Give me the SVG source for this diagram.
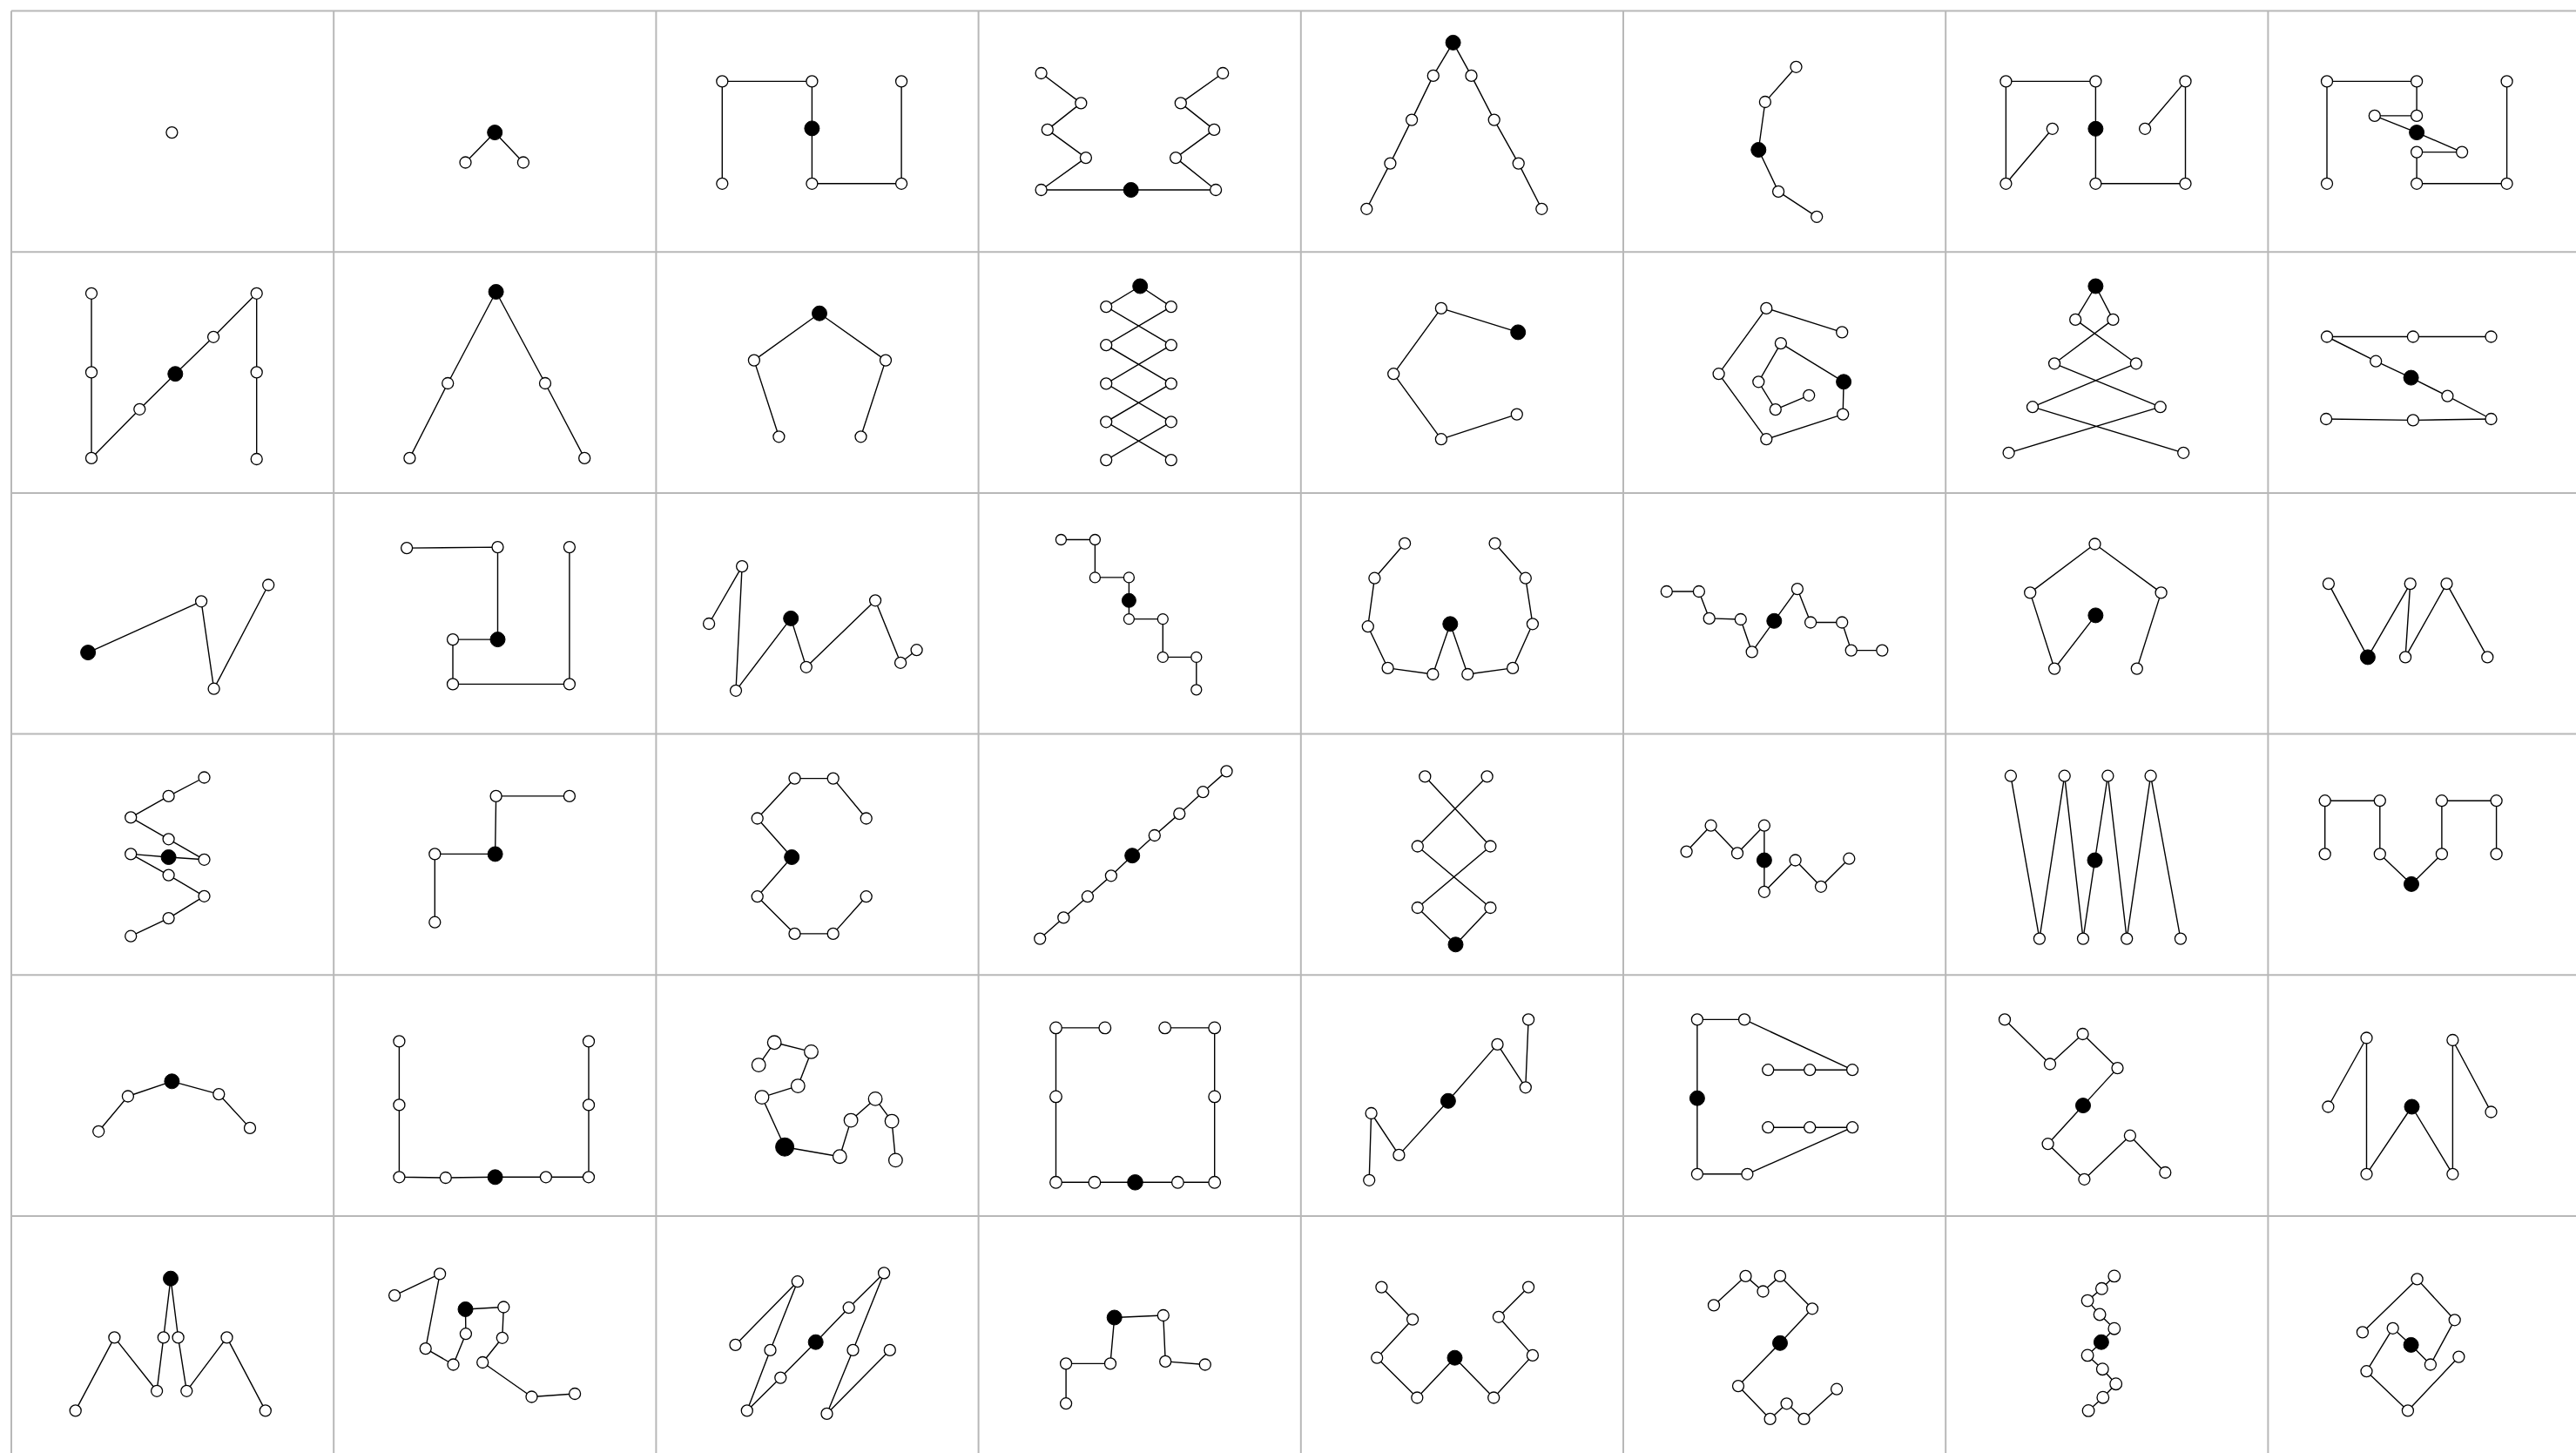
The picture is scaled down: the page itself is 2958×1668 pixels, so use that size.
<svg xmlns="http://www.w3.org/2000/svg" width="2958" height="1668" viewBox="0 0 2958 1668">
<style>
.grid{stroke:#b8b8b8;stroke-width:2;fill:none}
.e{fill:none;stroke:#000;stroke-width:1.4;stroke-linejoin:round}
.o{fill:#fff;stroke:#000;stroke-width:1.3}
.b{fill:#000;stroke:#000;stroke-width:1}
</style>
<rect x="0" y="0" width="2958" height="1668" fill="#fff"/>
<g id="grid" class="grid">
<path d="M13,12.5V1668M383.2,12.5V1668M753.4,12.5V1668M1123.6,12.5V1668M1493.8,12.5V1668M1864,12.5V1668M2234.2,12.5V1668M2604.4,12.5V1668"/>
<path d="M13,12.5H2958M13,289.2H2958M13,565.9H2958M13,842.6H2958M13,1119.3H2958M13,1396H2958"/>
</g>
<g id="connectors" class="e">
<path id="e-r0c1" d="M534.5,186.5L568.2,152.1L600.9,186.5"/>
<path id="e-r0c2" d="M829.3,210.8L829.3,93.4L932.4,93.4L932.4,147.4L932.4,210.8L1035.1,210.8L1035.1,93.4"/>
<path id="e-r0c3" d="M1195.6,84L1241.3,118.4L1202.8,148.9L1246.9,181.1L1195.6,218L1298.7,218L1396.1,218L1350.1,181.1L1394.2,148.9L1355.8,118.4L1404.2,84"/>
<path id="e-r0c4" d="M1569.3,239.8L1596.4,187.6L1621.1,137.6L1645.8,86.9L1668.6,48.9L1689.5,86.9L1715.7,137.6L1743.7,187.6L1770.3,239.8"/>
<path id="e-r0c5" d="M2062.5,76.8L2026.9,117L2019.3,172L2042.1,219.9L2086.2,248.8"/>
<path id="e-r0c6" d="M2356.8,147.8L2303.4,210.8L2303.4,93.4L2406.4,93.4L2406.4,147.8L2406.4,210.8L2509.5,210.8L2509.5,93.4L2463.1,147.8"/>
<path id="e-r0c7" d="M2672,210.8L2672,93.4L2775.1,93.4L2775.1,132.9L2726.8,132.9L2775.1,152.1L2827.1,174.6L2775.1,174.6L2775.1,210.8L2878.6,210.8L2878.6,93.4"/>
<path id="e-r1c0" d="M105,336.8L105,427.4L105,525.9L160.3,469.8L201.3,429.2L245.1,386.8L294.7,336.8L294.7,427.4L294.7,527"/>
<path id="e-r1c1" d="M470.4,525.9L514.2,440L569.6,335L626,440L671.2,525.9"/>
<path id="e-r1c2" d="M894.4,501.3L865.9,413.6L941,359.7L1017,413.6L988.5,501.3"/>
<path id="e-r1c3" d="M1309.2,328.5L1270.2,352.1L1344.8,396.2L1270.2,440.4L1344.8,484.3L1270.2,528.1M1309.2,328.5L1344.8,352.1L1270.2,396.2L1344.8,440.4L1270.2,484.3L1344.8,528.1"/>
<path id="e-r1c4" d="M1743.2,381.4L1654.9,353.9L1600.2,429.2L1654.9,504.2L1741.8,475.6"/>
<path id="e-r1c5" d="M2115.2,381.4L2028.3,353.9L1973.6,429.2L2028.3,504.2L2116.2,475.6L2117.1,438.3L2044.9,394.1L2019.3,438.3L2038.8,470.1L2077.2,453.8"/>
<path id="e-r1c6" d="M2406.4,328.5L2383.2,366.9L2452.9,417.3L2334,467.2L2507.2,519.8M2406.4,328.5L2426.4,366.9L2359.1,417.3L2480.7,467.2L2306.6,519.8"/>
<path id="e-r1c7" d="M2860.5,386.5L2770.9,386.5L2672,386.5L2728.2,414.7L2768.6,433.6L2810.4,454.6L2860.5,481L2770.9,482.4L2671.1,481"/>
<path id="e-r2c0" d="M101.1,749.1L231.1,690.3L245.6,790.7L308.2,671.5"/>
<path id="e-r2c1" d="M467.1,629.1L571.5,628.1L571.5,734.1L520,734.1L520,785.4L653.9,785.4L653.9,628.1"/>
<path id="e-r2c2" d="M814.1,716L852.1,650.1L845,792.8L908.2,709.9L925.8,765.8L1005.1,689.3L1034.1,760.8L1052.6,746.2"/>
<path id="e-r2c3" d="M1218.4,619.5L1257.4,619.5L1257.4,662.9L1296.4,662.9L1296.4,689.3L1296.4,710.6L1335.3,710.6L1335.3,754.4L1373.8,754.4L1373.8,791.8"/>
<path id="e-r2c4" d="M1613.1,623.8L1578.4,663.7L1570.8,719.2L1593.6,766.9L1645.4,774L1665.3,716.3L1685.3,774L1737.1,766.9L1759.9,716.3L1751.8,663.7L1716.6,623.8"/>
<path id="e-r2c5" d="M1913.8,679L1950.9,679L1962.7,709.9L1998.8,711L2011.7,748.4L2037.3,712.8L2063.9,676.1L2079.1,714.5L2115.2,714.5L2125.7,746.6L2161.3,746.6"/>
<path id="e-r2c6" d="M2406.4,706.4L2359.1,767.6L2331.2,680.4L2405.5,624.5L2481.6,680.4L2453.8,767.6"/>
<path id="e-r2c7" d="M2673.9,670.1L2718.9,754.4L2767.7,670.1L2762.1,754.4L2809.5,670.1L2856.3,754.4"/>
<path id="e-r3c0" d="M234.5,892.5L193.6,913.9L150.2,938.4L193.6,963.3L234.5,986.8L193.6,984L150.2,980.4L193.6,1004.6L234.5,1028.8L193.6,1054.1L150.2,1074.7"/>
<path id="e-r3c1" d="M653.9,913.9L569.6,913.9L568.6,980.4L499.3,980.4L499.3,1058.7"/>
<path id="e-r3c2" d="M994.7,939.5L956.7,893.6L912.5,893.6L869.7,939.5L909.2,984L869.7,1029.2L912.5,1071.9L956.7,1071.9L994.7,1029.2"/>
<path id="e-r3c3" d="M1194.2,1077.6L1221.3,1053.4L1248.9,1029.2L1275.9,1005.3L1300.2,982.2L1325.8,959L1354.3,934.1L1381.4,909.2L1408.5,885.4"/>
<path id="e-r3c4" d="M1636.3,891.4L1711.4,971.5L1627.8,1042L1671.5,1084.3L1711.4,1042L1627.8,971.5L1707.6,891.4"/>
<path id="e-r3c5" d="M1936.6,977.6L1964.6,947.7L1995,979.4L2025.9,947.7L2025.9,987.5L2025.9,1023.8L2061.6,987.5L2091,1017.8L2123.3,985.7"/>
<path id="e-r3c6" d="M2308.9,890.7L2341.9,1077.6L2370.7,890.7L2392,1077.6L2405.5,987.5L2420.4,890.7L2442.2,1077.6L2469.6,890.7L2503.9,1077.6"/>
<path id="e-r3c7" d="M2669.7,980.4L2669.7,919.2L2732.8,919.2L2732.8,980.4L2769,1014.9L2803.9,980.4L2803.9,919.2L2866.6,919.2L2866.6,980.4"/>
<path id="e-r4c0" d="M113.2,1298.8L146.9,1258.5L197.4,1241.3L251.3,1256.1L287,1294.9"/>
<path id="e-r4c1" d="M458.4,1195.4L458.4,1268.4L458.4,1351.3L511.8,1352L568.6,1351.3L626.9,1351.3L676,1351.3L676,1268.4L676,1195.4"/>
<path id="e-r4c2" d="M871.2,1222.6L889.2,1196.8L931.5,1207.4L916.3,1246.6L875,1259.6L901.1,1316.7L964.3,1327.7L977.1,1286.1L1005.1,1261.4L1024.1,1287.1L1028.4,1331.9"/>
<path id="e-r4c3" d="M1268.8,1179.9L1212.5,1179.9L1212.5,1258.9L1212.5,1357.3L1256.9,1357.3L1303.5,1357.3L1352.4,1357.3L1394.7,1357.3L1394.7,1258.9L1394.7,1179.9L1337.7,1179.9"/>
<path id="e-r4c4" d="M1572.2,1354.8L1574.6,1278L1606.4,1325.9L1662.9,1263.8L1719.5,1198.9L1751.8,1248.3L1755.1,1170.4"/>
<path id="e-r4c5" d="M2030.2,1228.2L2078.2,1228.2L2127.1,1228.2L2003.1,1170.4L1948.9,1170.4L1948.9,1260.7L1948.9,1347.8L2006.4,1347.8L2127.1,1294.2L2078.2,1294.2L2030.2,1294.2"/>
<path id="e-r4c6" d="M2302,1170.4L2354,1221.5L2391.6,1187L2431.5,1226.1L2392,1269.1L2351.6,1313.2L2393.4,1353.8L2445.9,1303.7L2486.3,1346"/>
<path id="e-r4c7" d="M2673.4,1270.5L2717.5,1191.5L2717.5,1347.8L2769.5,1270.5L2816.4,1347.8L2816.4,1194L2860.5,1276.5"/>
<path id="e-r5c0" d="M86.7,1619.4L131.4,1535.4L180.1,1596.8L187.8,1535.4L196,1467.7L204.6,1535.4L214.3,1596.8L260.5,1535.4L304.8,1619.4"/>
<path id="e-r5c1" d="M453.1,1487.1L505.1,1462.4L488.7,1548.1L520.5,1566.5L534.9,1531.2L534.5,1503L578.3,1500.5L576.8,1535.8L554.2,1564L610.5,1603.5L660.1,1600"/>
<path id="e-r5c2" d="M844.5,1543.9L915.8,1471.2L884.5,1549.9L857.8,1619.4L896.3,1581.6L936.7,1540.7L974.7,1501.2L1015.1,1461.4L979.5,1549.9L949.5,1622.9L1021.8,1549.9"/>
<path id="e-r5c3" d="M1224.1,1611.2L1224.1,1565.4L1275,1565.4L1279.7,1512.5L1335.8,1510L1338.2,1562.9L1383.8,1566.5"/>
<path id="e-r5c4" d="M1586.4,1477.6L1622.1,1514.6L1581.2,1558.7L1627.3,1604.5L1670.5,1558.7L1715.2,1604.5L1759.9,1555.9L1720.9,1511.8L1755.1,1477.6"/>
<path id="e-r5c5" d="M1968,1498.4L2004.5,1464.9L2024.5,1482.5L2044,1464.9L2081,1502.3L2044,1541.8L1996,1591.1L2032.6,1628.9L2051.6,1611.3L2071.5,1628.9L2109.1,1594.7"/>
<path id="e-r5c6" d="M2427.8,1464.9L2413.4,1479.3L2397.1,1493.1L2411.1,1509L2427.8,1525.2L2412.9,1540.7L2397.1,1555.9L2414.3,1571.7L2429.7,1588.7L2414.8,1604.2L2398.1,1619.4"/>
<path id="e-r5c7" d="M2712.9,1529.4L2775.6,1468.4L2818.7,1515.3L2790.9,1566.5L2768.6,1543.9L2747.7,1524.8L2717.5,1574.2L2764.9,1619.4L2823.4,1557.6"/>
</g>
<g id="nodes">
<g id="graph-r0c0"><circle class="o" cx="197.4" cy="152.1" r="6.5"/></g>
<g id="graph-r0c1"><circle class="o" cx="534.5" cy="186.5" r="6.5"/><circle class="o" cx="600.9" cy="186.5" r="6.5"/><circle class="b" cx="568.2" cy="152.1" r="8.5"/></g>
<g id="graph-r0c2"><circle class="o" cx="829.3" cy="210.8" r="6.5"/><circle class="o" cx="829.3" cy="93.4" r="6.5"/><circle class="o" cx="932.4" cy="93.4" r="6.5"/><circle class="o" cx="932.4" cy="210.8" r="6.5"/><circle class="o" cx="1035.1" cy="210.8" r="6.5"/><circle class="o" cx="1035.1" cy="93.4" r="6.5"/><circle class="b" cx="932.4" cy="147.4" r="8.5"/></g>
<g id="graph-r0c3"><circle class="o" cx="1195.6" cy="84" r="6.5"/><circle class="o" cx="1241.3" cy="118.4" r="6.5"/><circle class="o" cx="1202.8" cy="148.9" r="6.5"/><circle class="o" cx="1246.9" cy="181.1" r="6.5"/><circle class="o" cx="1195.6" cy="218" r="6.5"/><circle class="o" cx="1396.1" cy="218" r="6.5"/><circle class="o" cx="1350.1" cy="181.1" r="6.5"/><circle class="o" cx="1394.2" cy="148.9" r="6.5"/><circle class="o" cx="1355.8" cy="118.4" r="6.5"/><circle class="o" cx="1404.2" cy="84" r="6.5"/><circle class="b" cx="1298.7" cy="218" r="8.5"/></g>
<g id="graph-r0c4"><circle class="o" cx="1569.3" cy="239.8" r="6.5"/><circle class="o" cx="1596.4" cy="187.6" r="6.5"/><circle class="o" cx="1621.1" cy="137.6" r="6.5"/><circle class="o" cx="1645.8" cy="86.9" r="6.5"/><circle class="o" cx="1689.5" cy="86.9" r="6.5"/><circle class="o" cx="1715.7" cy="137.6" r="6.5"/><circle class="o" cx="1743.7" cy="187.6" r="6.5"/><circle class="o" cx="1770.3" cy="239.8" r="6.5"/><circle class="b" cx="1668.6" cy="48.9" r="8.5"/></g>
<g id="graph-r0c5"><circle class="o" cx="2062.5" cy="76.8" r="6.5"/><circle class="o" cx="2026.9" cy="117" r="6.5"/><circle class="o" cx="2042.1" cy="219.9" r="6.5"/><circle class="o" cx="2086.2" cy="248.8" r="6.5"/><circle class="b" cx="2019.3" cy="172" r="8.5"/></g>
<g id="graph-r0c6"><circle class="o" cx="2356.8" cy="147.8" r="6.5"/><circle class="o" cx="2303.4" cy="210.8" r="6.5"/><circle class="o" cx="2303.4" cy="93.4" r="6.5"/><circle class="o" cx="2406.4" cy="93.4" r="6.5"/><circle class="o" cx="2406.4" cy="210.8" r="6.5"/><circle class="o" cx="2509.5" cy="210.8" r="6.5"/><circle class="o" cx="2509.5" cy="93.4" r="6.5"/><circle class="o" cx="2463.1" cy="147.8" r="6.5"/><circle class="b" cx="2406.4" cy="147.8" r="8.5"/></g>
<g id="graph-r0c7"><circle class="o" cx="2672" cy="210.8" r="6.5"/><circle class="o" cx="2672" cy="93.4" r="6.5"/><circle class="o" cx="2775.1" cy="93.4" r="6.5"/><circle class="o" cx="2775.1" cy="132.9" r="6.5"/><circle class="o" cx="2726.8" cy="132.9" r="6.5"/><circle class="o" cx="2827.1" cy="174.6" r="6.5"/><circle class="o" cx="2775.1" cy="174.6" r="6.5"/><circle class="o" cx="2775.1" cy="210.8" r="6.5"/><circle class="o" cx="2878.6" cy="210.8" r="6.5"/><circle class="o" cx="2878.6" cy="93.4" r="6.5"/><circle class="b" cx="2775.1" cy="152.1" r="8.5"/></g>
<g id="graph-r1c0"><circle class="o" cx="105" cy="336.8" r="6.5"/><circle class="o" cx="105" cy="427.4" r="6.5"/><circle class="o" cx="105" cy="525.9" r="6.5"/><circle class="o" cx="160.3" cy="469.8" r="6.5"/><circle class="o" cx="245.1" cy="386.8" r="6.5"/><circle class="o" cx="294.7" cy="336.8" r="6.5"/><circle class="o" cx="294.7" cy="427.4" r="6.5"/><circle class="o" cx="294.7" cy="527" r="6.5"/><circle class="b" cx="201.3" cy="429.2" r="8.5"/></g>
<g id="graph-r1c1"><circle class="o" cx="470.4" cy="525.9" r="6.5"/><circle class="o" cx="514.2" cy="440" r="6.5"/><circle class="o" cx="626" cy="440" r="6.5"/><circle class="o" cx="671.2" cy="525.9" r="6.5"/><circle class="b" cx="569.6" cy="335" r="8.5"/></g>
<g id="graph-r1c2"><circle class="o" cx="894.4" cy="501.3" r="6.5"/><circle class="o" cx="865.9" cy="413.6" r="6.5"/><circle class="o" cx="1017" cy="413.6" r="6.5"/><circle class="o" cx="988.5" cy="501.3" r="6.5"/><circle class="b" cx="941" cy="359.7" r="8.5"/></g>
<g id="graph-r1c3"><circle class="o" cx="1270.2" cy="352.1" r="6.5"/><circle class="o" cx="1344.8" cy="352.1" r="6.5"/><circle class="o" cx="1270.2" cy="396.2" r="6.5"/><circle class="o" cx="1344.8" cy="396.2" r="6.5"/><circle class="o" cx="1270.2" cy="440.4" r="6.5"/><circle class="o" cx="1344.8" cy="440.4" r="6.5"/><circle class="o" cx="1270.2" cy="484.3" r="6.5"/><circle class="o" cx="1344.8" cy="484.3" r="6.5"/><circle class="o" cx="1270.2" cy="528.1" r="6.5"/><circle class="o" cx="1344.8" cy="528.1" r="6.5"/><circle class="b" cx="1309.2" cy="328.5" r="8.5"/></g>
<g id="graph-r1c4"><circle class="o" cx="1654.9" cy="353.9" r="6.5"/><circle class="o" cx="1600.2" cy="429.2" r="6.5"/><circle class="o" cx="1654.9" cy="504.2" r="6.5"/><circle class="o" cx="1741.8" cy="475.6" r="6.5"/><circle class="b" cx="1743.2" cy="381.4" r="8.5"/></g>
<g id="graph-r1c5"><circle class="o" cx="2115.2" cy="381.4" r="6.5"/><circle class="o" cx="2028.3" cy="353.9" r="6.5"/><circle class="o" cx="1973.6" cy="429.2" r="6.5"/><circle class="o" cx="2028.3" cy="504.2" r="6.5"/><circle class="o" cx="2116.2" cy="475.6" r="6.5"/><circle class="o" cx="2044.9" cy="394.1" r="6.5"/><circle class="o" cx="2019.3" cy="438.3" r="6.5"/><circle class="o" cx="2038.8" cy="470.1" r="6.5"/><circle class="o" cx="2077.2" cy="453.8" r="6.5"/><circle class="b" cx="2117.1" cy="438.3" r="8.5"/></g>
<g id="graph-r1c6"><circle class="o" cx="2383.2" cy="366.9" r="6.5"/><circle class="o" cx="2426.4" cy="366.9" r="6.5"/><circle class="o" cx="2359.1" cy="417.3" r="6.5"/><circle class="o" cx="2452.9" cy="417.3" r="6.5"/><circle class="o" cx="2334" cy="467.2" r="6.5"/><circle class="o" cx="2480.7" cy="467.2" r="6.5"/><circle class="o" cx="2306.6" cy="519.8" r="6.5"/><circle class="o" cx="2507.2" cy="519.8" r="6.5"/><circle class="b" cx="2406.4" cy="328.5" r="8.5"/></g>
<g id="graph-r1c7"><circle class="o" cx="2860.5" cy="386.5" r="6.5"/><circle class="o" cx="2770.9" cy="386.5" r="6.5"/><circle class="o" cx="2672" cy="386.5" r="6.5"/><circle class="o" cx="2728.2" cy="414.7" r="6.5"/><circle class="o" cx="2810.4" cy="454.6" r="6.5"/><circle class="o" cx="2860.5" cy="481" r="6.5"/><circle class="o" cx="2770.9" cy="482.4" r="6.5"/><circle class="o" cx="2671.1" cy="481" r="6.5"/><circle class="b" cx="2768.6" cy="433.6" r="8.5"/></g>
<g id="graph-r2c0"><circle class="o" cx="231.1" cy="690.3" r="6.5"/><circle class="o" cx="245.6" cy="790.7" r="6.5"/><circle class="o" cx="308.2" cy="671.5" r="6.5"/><circle class="b" cx="101.1" cy="749.1" r="8.5"/></g>
<g id="graph-r2c1"><circle class="o" cx="467.1" cy="629.1" r="6.5"/><circle class="o" cx="571.5" cy="628.1" r="6.5"/><circle class="o" cx="520" cy="734.1" r="6.5"/><circle class="o" cx="520" cy="785.4" r="6.5"/><circle class="o" cx="653.9" cy="785.4" r="6.5"/><circle class="o" cx="653.9" cy="628.1" r="6.5"/><circle class="b" cx="571.5" cy="734.1" r="8.5"/></g>
<g id="graph-r2c2"><circle class="o" cx="814.1" cy="716" r="6.5"/><circle class="o" cx="852.1" cy="650.1" r="6.5"/><circle class="o" cx="845" cy="792.8" r="6.5"/><circle class="o" cx="925.8" cy="765.8" r="6.5"/><circle class="o" cx="1005.1" cy="689.3" r="6.5"/><circle class="o" cx="1034.1" cy="760.8" r="6.5"/><circle class="o" cx="1052.6" cy="746.2" r="6.5"/><circle class="b" cx="908.2" cy="709.9" r="8.5"/></g>
<g id="graph-r2c3"><circle class="o" cx="1218.4" cy="619.5" r="6"/><circle class="o" cx="1257.4" cy="619.5" r="6"/><circle class="o" cx="1257.4" cy="662.9" r="6"/><circle class="o" cx="1296.4" cy="662.9" r="6"/><circle class="o" cx="1296.4" cy="710.6" r="6"/><circle class="o" cx="1335.3" cy="710.6" r="6"/><circle class="o" cx="1335.3" cy="754.4" r="6"/><circle class="o" cx="1373.8" cy="754.4" r="6"/><circle class="o" cx="1373.8" cy="791.8" r="6"/><circle class="b" cx="1296.4" cy="689.3" r="8"/></g>
<g id="graph-r2c4"><circle class="o" cx="1613.1" cy="623.8" r="6.5"/><circle class="o" cx="1578.4" cy="663.7" r="6.5"/><circle class="o" cx="1570.8" cy="719.2" r="6.5"/><circle class="o" cx="1593.6" cy="766.9" r="6.5"/><circle class="o" cx="1645.4" cy="774" r="6.5"/><circle class="o" cx="1685.3" cy="774" r="6.5"/><circle class="o" cx="1737.1" cy="766.9" r="6.5"/><circle class="o" cx="1759.9" cy="716.3" r="6.5"/><circle class="o" cx="1751.8" cy="663.7" r="6.5"/><circle class="o" cx="1716.6" cy="623.8" r="6.5"/><circle class="b" cx="1665.3" cy="716.3" r="8.5"/></g>
<g id="graph-r2c5"><circle class="o" cx="1913.8" cy="679" r="6.5"/><circle class="o" cx="1950.9" cy="679" r="6.5"/><circle class="o" cx="1962.7" cy="709.9" r="6.5"/><circle class="o" cx="1998.8" cy="711" r="6.5"/><circle class="o" cx="2011.7" cy="748.4" r="6.5"/><circle class="o" cx="2063.9" cy="676.1" r="6.5"/><circle class="o" cx="2079.1" cy="714.5" r="6.5"/><circle class="o" cx="2115.2" cy="714.5" r="6.5"/><circle class="o" cx="2125.7" cy="746.6" r="6.5"/><circle class="o" cx="2161.3" cy="746.6" r="6.5"/><circle class="b" cx="2037.3" cy="712.8" r="8.5"/></g>
<g id="graph-r2c6"><circle class="o" cx="2359.1" cy="767.6" r="6.5"/><circle class="o" cx="2331.2" cy="680.4" r="6.5"/><circle class="o" cx="2405.5" cy="624.5" r="6.5"/><circle class="o" cx="2481.6" cy="680.4" r="6.5"/><circle class="o" cx="2453.8" cy="767.6" r="6.5"/><circle class="b" cx="2406.4" cy="706.4" r="8.5"/></g>
<g id="graph-r2c7"><circle class="o" cx="2673.9" cy="670.1" r="6.5"/><circle class="o" cx="2767.7" cy="670.1" r="6.5"/><circle class="o" cx="2762.1" cy="754.4" r="6.5"/><circle class="o" cx="2809.5" cy="670.1" r="6.5"/><circle class="o" cx="2856.3" cy="754.4" r="6.5"/><circle class="b" cx="2718.9" cy="754.4" r="8.5"/></g>
<g id="graph-r3c0"><circle class="o" cx="234.5" cy="892.5" r="6.5"/><circle class="o" cx="193.6" cy="913.9" r="6.5"/><circle class="o" cx="150.2" cy="938.4" r="6.5"/><circle class="o" cx="193.6" cy="963.3" r="6.5"/><circle class="o" cx="234.5" cy="986.8" r="6.5"/><circle class="o" cx="150.2" cy="980.4" r="6.5"/><circle class="o" cx="193.6" cy="1004.6" r="6.5"/><circle class="o" cx="234.5" cy="1028.8" r="6.5"/><circle class="o" cx="193.6" cy="1054.1" r="6.5"/><circle class="o" cx="150.2" cy="1074.7" r="6.5"/><circle class="b" cx="193.6" cy="984" r="8.5"/></g>
<g id="graph-r3c1"><circle class="o" cx="653.9" cy="913.9" r="6.5"/><circle class="o" cx="569.6" cy="913.9" r="6.5"/><circle class="o" cx="499.3" cy="980.4" r="6.5"/><circle class="o" cx="499.3" cy="1058.7" r="6.5"/><circle class="b" cx="568.6" cy="980.4" r="8.5"/></g>
<g id="graph-r3c2"><circle class="o" cx="994.7" cy="939.5" r="6.5"/><circle class="o" cx="956.7" cy="893.6" r="6.5"/><circle class="o" cx="912.5" cy="893.6" r="6.5"/><circle class="o" cx="869.7" cy="939.5" r="6.5"/><circle class="o" cx="869.7" cy="1029.2" r="6.5"/><circle class="o" cx="912.5" cy="1071.9" r="6.5"/><circle class="o" cx="956.7" cy="1071.9" r="6.5"/><circle class="o" cx="994.7" cy="1029.2" r="6.5"/><circle class="b" cx="909.2" cy="984" r="8.5"/></g>
<g id="graph-r3c3"><circle class="o" cx="1194.2" cy="1077.6" r="6.5"/><circle class="o" cx="1221.3" cy="1053.4" r="6.5"/><circle class="o" cx="1248.9" cy="1029.2" r="6.5"/><circle class="o" cx="1275.9" cy="1005.3" r="6.5"/><circle class="o" cx="1325.8" cy="959" r="6.5"/><circle class="o" cx="1354.3" cy="934.1" r="6.5"/><circle class="o" cx="1381.4" cy="909.2" r="6.5"/><circle class="o" cx="1408.5" cy="885.4" r="6.5"/><circle class="b" cx="1300.2" cy="982.2" r="8.5"/></g>
<g id="graph-r3c4"><circle class="o" cx="1636.3" cy="891.4" r="6.5"/><circle class="o" cx="1711.4" cy="971.5" r="6.5"/><circle class="o" cx="1627.8" cy="1042" r="6.5"/><circle class="o" cx="1711.4" cy="1042" r="6.5"/><circle class="o" cx="1627.8" cy="971.5" r="6.5"/><circle class="o" cx="1707.6" cy="891.4" r="6.5"/><circle class="b" cx="1671.5" cy="1084.3" r="8.5"/></g>
<g id="graph-r3c5"><circle class="o" cx="1936.6" cy="977.6" r="6.5"/><circle class="o" cx="1964.6" cy="947.7" r="6.5"/><circle class="o" cx="1995" cy="979.4" r="6.5"/><circle class="o" cx="2025.9" cy="947.7" r="6.5"/><circle class="o" cx="2025.9" cy="1023.8" r="6.5"/><circle class="o" cx="2061.6" cy="987.5" r="6.5"/><circle class="o" cx="2091" cy="1017.8" r="6.5"/><circle class="o" cx="2123.3" cy="985.7" r="6.5"/><circle class="b" cx="2025.9" cy="987.5" r="8.5"/></g>
<g id="graph-r3c6"><circle class="o" cx="2308.9" cy="890.7" r="6.5"/><circle class="o" cx="2341.9" cy="1077.6" r="6.5"/><circle class="o" cx="2370.7" cy="890.7" r="6.5"/><circle class="o" cx="2392" cy="1077.6" r="6.5"/><circle class="o" cx="2420.4" cy="890.7" r="6.5"/><circle class="o" cx="2442.2" cy="1077.6" r="6.5"/><circle class="o" cx="2469.6" cy="890.7" r="6.5"/><circle class="o" cx="2503.9" cy="1077.6" r="6.5"/><circle class="b" cx="2405.5" cy="987.5" r="8.5"/></g>
<g id="graph-r3c7"><circle class="o" cx="2669.7" cy="980.4" r="6.5"/><circle class="o" cx="2669.7" cy="919.2" r="6.5"/><circle class="o" cx="2732.8" cy="919.2" r="6.5"/><circle class="o" cx="2732.8" cy="980.4" r="6.5"/><circle class="o" cx="2803.9" cy="980.4" r="6.5"/><circle class="o" cx="2803.9" cy="919.2" r="6.5"/><circle class="o" cx="2866.6" cy="919.2" r="6.5"/><circle class="o" cx="2866.6" cy="980.4" r="6.5"/><circle class="b" cx="2769" cy="1014.9" r="8.5"/></g>
<g id="graph-r4c0"><circle class="o" cx="113.2" cy="1298.8" r="6.5"/><circle class="o" cx="146.9" cy="1258.5" r="6.5"/><circle class="o" cx="251.3" cy="1256.1" r="6.5"/><circle class="o" cx="287" cy="1294.9" r="6.5"/><circle class="b" cx="197.4" cy="1241.3" r="8.5"/></g>
<g id="graph-r4c1"><circle class="o" cx="458.4" cy="1195.4" r="6.5"/><circle class="o" cx="458.4" cy="1268.4" r="6.5"/><circle class="o" cx="458.4" cy="1351.3" r="6.5"/><circle class="o" cx="511.8" cy="1352" r="6.5"/><circle class="o" cx="626.9" cy="1351.3" r="6.5"/><circle class="o" cx="676" cy="1351.3" r="6.5"/><circle class="o" cx="676" cy="1268.4" r="6.5"/><circle class="o" cx="676" cy="1195.4" r="6.5"/><circle class="b" cx="568.6" cy="1351.3" r="8.5"/></g>
<g id="graph-r4c2"><circle class="o" cx="871.2" cy="1222.6" r="7.8"/><circle class="o" cx="889.2" cy="1196.8" r="7.8"/><circle class="o" cx="931.5" cy="1207.4" r="7.8"/><circle class="o" cx="916.3" cy="1246.6" r="7.8"/><circle class="o" cx="875" cy="1259.6" r="7.8"/><circle class="o" cx="964.3" cy="1327.7" r="7.8"/><circle class="o" cx="977.1" cy="1286.1" r="7.8"/><circle class="o" cx="1005.1" cy="1261.4" r="7.8"/><circle class="o" cx="1024.1" cy="1287.1" r="7.8"/><circle class="o" cx="1028.4" cy="1331.9" r="7.8"/><circle class="b" cx="901.1" cy="1316.7" r="10.5"/></g>
<g id="graph-r4c3"><circle class="o" cx="1268.8" cy="1179.9" r="6.8"/><circle class="o" cx="1212.5" cy="1179.9" r="6.8"/><circle class="o" cx="1212.5" cy="1258.9" r="6.8"/><circle class="o" cx="1212.5" cy="1357.3" r="6.8"/><circle class="o" cx="1256.9" cy="1357.3" r="6.8"/><circle class="o" cx="1352.4" cy="1357.3" r="6.8"/><circle class="o" cx="1394.7" cy="1357.3" r="6.8"/><circle class="o" cx="1394.7" cy="1258.9" r="6.8"/><circle class="o" cx="1394.7" cy="1179.9" r="6.8"/><circle class="o" cx="1337.7" cy="1179.9" r="6.8"/><circle class="b" cx="1303.5" cy="1357.3" r="8.8"/></g>
<g id="graph-r4c4"><circle class="o" cx="1572.2" cy="1354.8" r="6.5"/><circle class="o" cx="1574.6" cy="1278" r="6.5"/><circle class="o" cx="1606.4" cy="1325.9" r="6.5"/><circle class="o" cx="1719.5" cy="1198.9" r="6.5"/><circle class="o" cx="1751.8" cy="1248.3" r="6.5"/><circle class="o" cx="1755.1" cy="1170.4" r="6.5"/><circle class="b" cx="1662.9" cy="1263.8" r="8.5"/></g>
<g id="graph-r4c5"><circle class="o" cx="2030.2" cy="1228.2" r="6.5"/><circle class="o" cx="2078.2" cy="1228.2" r="6.5"/><circle class="o" cx="2127.1" cy="1228.2" r="6.5"/><circle class="o" cx="2003.1" cy="1170.4" r="6.5"/><circle class="o" cx="1948.9" cy="1170.4" r="6.5"/><circle class="o" cx="1948.9" cy="1347.8" r="6.5"/><circle class="o" cx="2006.4" cy="1347.8" r="6.5"/><circle class="o" cx="2127.1" cy="1294.2" r="6.5"/><circle class="o" cx="2078.2" cy="1294.2" r="6.5"/><circle class="o" cx="2030.2" cy="1294.2" r="6.5"/><circle class="b" cx="1948.9" cy="1260.7" r="8.5"/></g>
<g id="graph-r4c6"><circle class="o" cx="2302" cy="1170.4" r="6.5"/><circle class="o" cx="2354" cy="1221.5" r="6.5"/><circle class="o" cx="2391.6" cy="1187" r="6.5"/><circle class="o" cx="2431.5" cy="1226.1" r="6.5"/><circle class="o" cx="2351.6" cy="1313.2" r="6.5"/><circle class="o" cx="2393.4" cy="1353.8" r="6.5"/><circle class="o" cx="2445.9" cy="1303.7" r="6.5"/><circle class="o" cx="2486.3" cy="1346" r="6.5"/><circle class="b" cx="2392" cy="1269.1" r="8.5"/></g>
<g id="graph-r4c7"><circle class="o" cx="2673.4" cy="1270.5" r="6.5"/><circle class="o" cx="2717.5" cy="1191.5" r="6.5"/><circle class="o" cx="2717.5" cy="1347.8" r="6.5"/><circle class="o" cx="2816.4" cy="1347.8" r="6.5"/><circle class="o" cx="2816.4" cy="1194" r="6.5"/><circle class="o" cx="2860.5" cy="1276.5" r="6.5"/><circle class="b" cx="2769.5" cy="1270.5" r="8.5"/></g>
<g id="graph-r5c0"><circle class="o" cx="86.7" cy="1619.4" r="6.5"/><circle class="o" cx="131.4" cy="1535.4" r="6.5"/><circle class="o" cx="180.1" cy="1596.8" r="6.5"/><circle class="o" cx="187.8" cy="1535.4" r="6.5"/><circle class="o" cx="204.6" cy="1535.4" r="6.5"/><circle class="o" cx="214.3" cy="1596.8" r="6.5"/><circle class="o" cx="260.5" cy="1535.4" r="6.5"/><circle class="o" cx="304.8" cy="1619.4" r="6.5"/><circle class="b" cx="196" cy="1467.7" r="8.5"/></g>
<g id="graph-r5c1"><circle class="o" cx="453.1" cy="1487.1" r="6.5"/><circle class="o" cx="505.1" cy="1462.4" r="6.5"/><circle class="o" cx="488.7" cy="1548.1" r="6.5"/><circle class="o" cx="520.5" cy="1566.5" r="6.5"/><circle class="o" cx="534.9" cy="1531.2" r="6.5"/><circle class="o" cx="578.3" cy="1500.5" r="6.5"/><circle class="o" cx="576.8" cy="1535.8" r="6.5"/><circle class="o" cx="554.2" cy="1564" r="6.5"/><circle class="o" cx="610.5" cy="1603.5" r="6.5"/><circle class="o" cx="660.1" cy="1600" r="6.5"/><circle class="b" cx="534.5" cy="1503" r="8.5"/></g>
<g id="graph-r5c2"><circle class="o" cx="844.5" cy="1543.9" r="6.5"/><circle class="o" cx="915.8" cy="1471.2" r="6.5"/><circle class="o" cx="884.5" cy="1549.9" r="6.5"/><circle class="o" cx="857.8" cy="1619.4" r="6.5"/><circle class="o" cx="896.3" cy="1581.6" r="6.5"/><circle class="o" cx="974.7" cy="1501.2" r="6.5"/><circle class="o" cx="1015.1" cy="1461.4" r="6.5"/><circle class="o" cx="979.5" cy="1549.9" r="6.5"/><circle class="o" cx="949.5" cy="1622.9" r="6.5"/><circle class="o" cx="1021.8" cy="1549.9" r="6.5"/><circle class="b" cx="936.7" cy="1540.7" r="8.5"/></g>
<g id="graph-r5c3"><circle class="o" cx="1224.1" cy="1611.2" r="6.5"/><circle class="o" cx="1224.1" cy="1565.4" r="6.5"/><circle class="o" cx="1275" cy="1565.4" r="6.5"/><circle class="o" cx="1335.8" cy="1510" r="6.5"/><circle class="o" cx="1338.2" cy="1562.9" r="6.5"/><circle class="o" cx="1383.8" cy="1566.5" r="6.5"/><circle class="b" cx="1279.7" cy="1512.5" r="8.5"/></g>
<g id="graph-r5c4"><circle class="o" cx="1586.4" cy="1477.6" r="6.5"/><circle class="o" cx="1622.1" cy="1514.6" r="6.5"/><circle class="o" cx="1581.2" cy="1558.7" r="6.5"/><circle class="o" cx="1627.3" cy="1604.5" r="6.5"/><circle class="o" cx="1715.2" cy="1604.5" r="6.5"/><circle class="o" cx="1759.9" cy="1555.9" r="6.5"/><circle class="o" cx="1720.9" cy="1511.8" r="6.5"/><circle class="o" cx="1755.1" cy="1477.6" r="6.5"/><circle class="b" cx="1670.5" cy="1558.7" r="8.5"/></g>
<g id="graph-r5c5"><circle class="o" cx="1968" cy="1498.4" r="6.5"/><circle class="o" cx="2004.5" cy="1464.9" r="6.5"/><circle class="o" cx="2024.5" cy="1482.5" r="6.5"/><circle class="o" cx="2044" cy="1464.9" r="6.5"/><circle class="o" cx="2081" cy="1502.3" r="6.5"/><circle class="o" cx="1996" cy="1591.1" r="6.5"/><circle class="o" cx="2032.6" cy="1628.9" r="6.5"/><circle class="o" cx="2051.6" cy="1611.3" r="6.5"/><circle class="o" cx="2071.5" cy="1628.9" r="6.5"/><circle class="o" cx="2109.1" cy="1594.7" r="6.5"/><circle class="b" cx="2044" cy="1541.8" r="8.5"/></g>
<g id="graph-r5c6"><circle class="o" cx="2427.8" cy="1464.9" r="6.8"/><circle class="o" cx="2413.4" cy="1479.3" r="6.8"/><circle class="o" cx="2397.1" cy="1493.1" r="6.8"/><circle class="o" cx="2411.1" cy="1509" r="6.8"/><circle class="o" cx="2427.8" cy="1525.2" r="6.8"/><circle class="o" cx="2397.1" cy="1555.9" r="6.8"/><circle class="o" cx="2414.3" cy="1571.7" r="6.8"/><circle class="o" cx="2429.7" cy="1588.7" r="6.8"/><circle class="o" cx="2414.8" cy="1604.2" r="6.8"/><circle class="o" cx="2398.1" cy="1619.4" r="6.8"/><circle class="b" cx="2412.9" cy="1540.7" r="8.5"/></g>
<g id="graph-r5c7"><circle class="o" cx="2712.9" cy="1529.4" r="6.5"/><circle class="o" cx="2775.6" cy="1468.4" r="6.5"/><circle class="o" cx="2818.7" cy="1515.3" r="6.5"/><circle class="o" cx="2790.9" cy="1566.5" r="6.5"/><circle class="o" cx="2747.7" cy="1524.8" r="6.5"/><circle class="o" cx="2717.5" cy="1574.2" r="6.5"/><circle class="o" cx="2764.9" cy="1619.4" r="6.5"/><circle class="o" cx="2823.4" cy="1557.6" r="6.5"/><circle class="b" cx="2768.6" cy="1543.9" r="8.5"/></g>
</g>
</svg>
